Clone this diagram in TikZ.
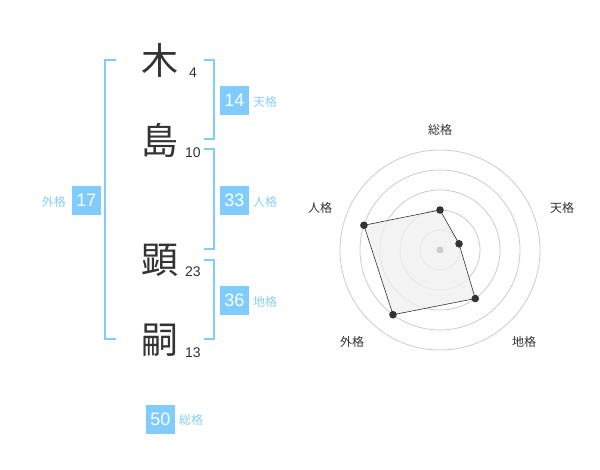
\documentclass[tikz,border=0pt]{standalone}
\usepackage{fontspec}
\setmainfont{Liberation Sans}
\newfontfamily\cjk{Noto Sans CJK JP}
\begin{document}
\definecolor{boxblue}{HTML}{80CCFF}
\definecolor{lblblue}{HTML}{8ACFF5}
\definecolor{ink}{HTML}{333333}
\definecolor{ring}{HTML}{CCCCCC}
\begin{tikzpicture}[x=1pt,y=-1pt,
  kanji/.style={font=\cjk\fontsize{37}{37}\selectfont, text=ink, inner sep=0pt},
  stroke/.style={font=\fontsize{14}{14}\selectfont, text=ink, inner sep=0pt},
  valbox/.style={fill=boxblue, text=white, minimum width=29pt, minimum height=29pt, inner sep=0pt, font=\fontsize{18}{18}\selectfont},
  vallbl/.style={text=lblblue, inner sep=0pt, font=\cjk\fontsize{12}{12}\selectfont},
  brk/.style={draw=boxblue, line width=2pt},
  axlbl/.style={text=ink, inner sep=0pt, font=\cjk\fontsize{12}{12}\selectfont}]
\path[use as bounding box, fill=white] (0,0) rectangle (600,470);
% characters
\node[kanji] (k1) at (160,60) {木};
\node[kanji] (k2) at (160,140) {島};
\node[kanji] (k3) at (160,260) {顕};
\node[kanji] (k4) at (160,340) {嗣};
\node[stroke] (s1) at (193,73) {4};
\node[stroke] (s2) at (193,153) {10};
\node[stroke] (s3) at (193,272) {23};
\node[stroke] (s4) at (193,353) {13};
% brackets
\draw[brk] (116,60) -- (105,60) -- (105,339) -- (116,339);
\draw[brk] (204,60) -- (214,60) -- (214,139) -- (204,139);
\draw[brk] (204,149) -- (214,149) -- (214,249) -- (204,249);
\draw[brk] (204,260) -- (214,260) -- (214,339) -- (204,339);
% value boxes
\node[valbox] (ten) at (234.5,100.5) {14};
\node[vallbl, anchor=west] (tenl) at (253,101.5) {天格};
\node[valbox] (jin) at (234.5,200.5) {33};
\node[vallbl, anchor=west] (jinl) at (253,201.5) {人格};
\node[valbox] (chi) at (234.5,300.5) {36};
\node[vallbl, anchor=west] (chil) at (253,301.5) {地格};
\node[valbox] (gai) at (86.5,200.5) {17};
\node[vallbl, anchor=east] (gail) at (66,201.5) {外格};
\node[valbox] (sou) at (160.5,419) {50};
\node[vallbl, anchor=west] (soul) at (179,420) {総格};
% radar
\begin{scope}[shift={(440,250)}, y=1pt]
  \foreach \r in {20,40,60,80,100} \draw[ring, line width=0.8pt] (0,0) circle (\r);
  \coordinate (pS) at (90:40);
  \coordinate (pT) at (18:20);
  \coordinate (pC) at (-54:60);
  \coordinate (pG) at (-126:80);
  \coordinate (pJ) at (162:80);
  \draw[ink, line width=0.6pt, fill=black!6, fill opacity=0.8] (pS) -- (pT) -- (pC) -- (pG) -- (pJ) -- cycle;
  \fill[ring] (0,0) circle (3.5);
  \foreach \p in {pS,pT,pC,pG,pJ} \fill[ink] (\p) circle (3.8);
  \node[axlbl] (aS) at (0,120) {総格};
  \node[axlbl] (aT) at (122,42) {天格};
  \node[axlbl] (aJ) at (-120,42) {人格};
  \node[axlbl] (aG) at (-88,-92) {外格};
  \node[axlbl] (aC) at (84,-92) {地格};
\end{scope}
\end{tikzpicture}
\end{document}
